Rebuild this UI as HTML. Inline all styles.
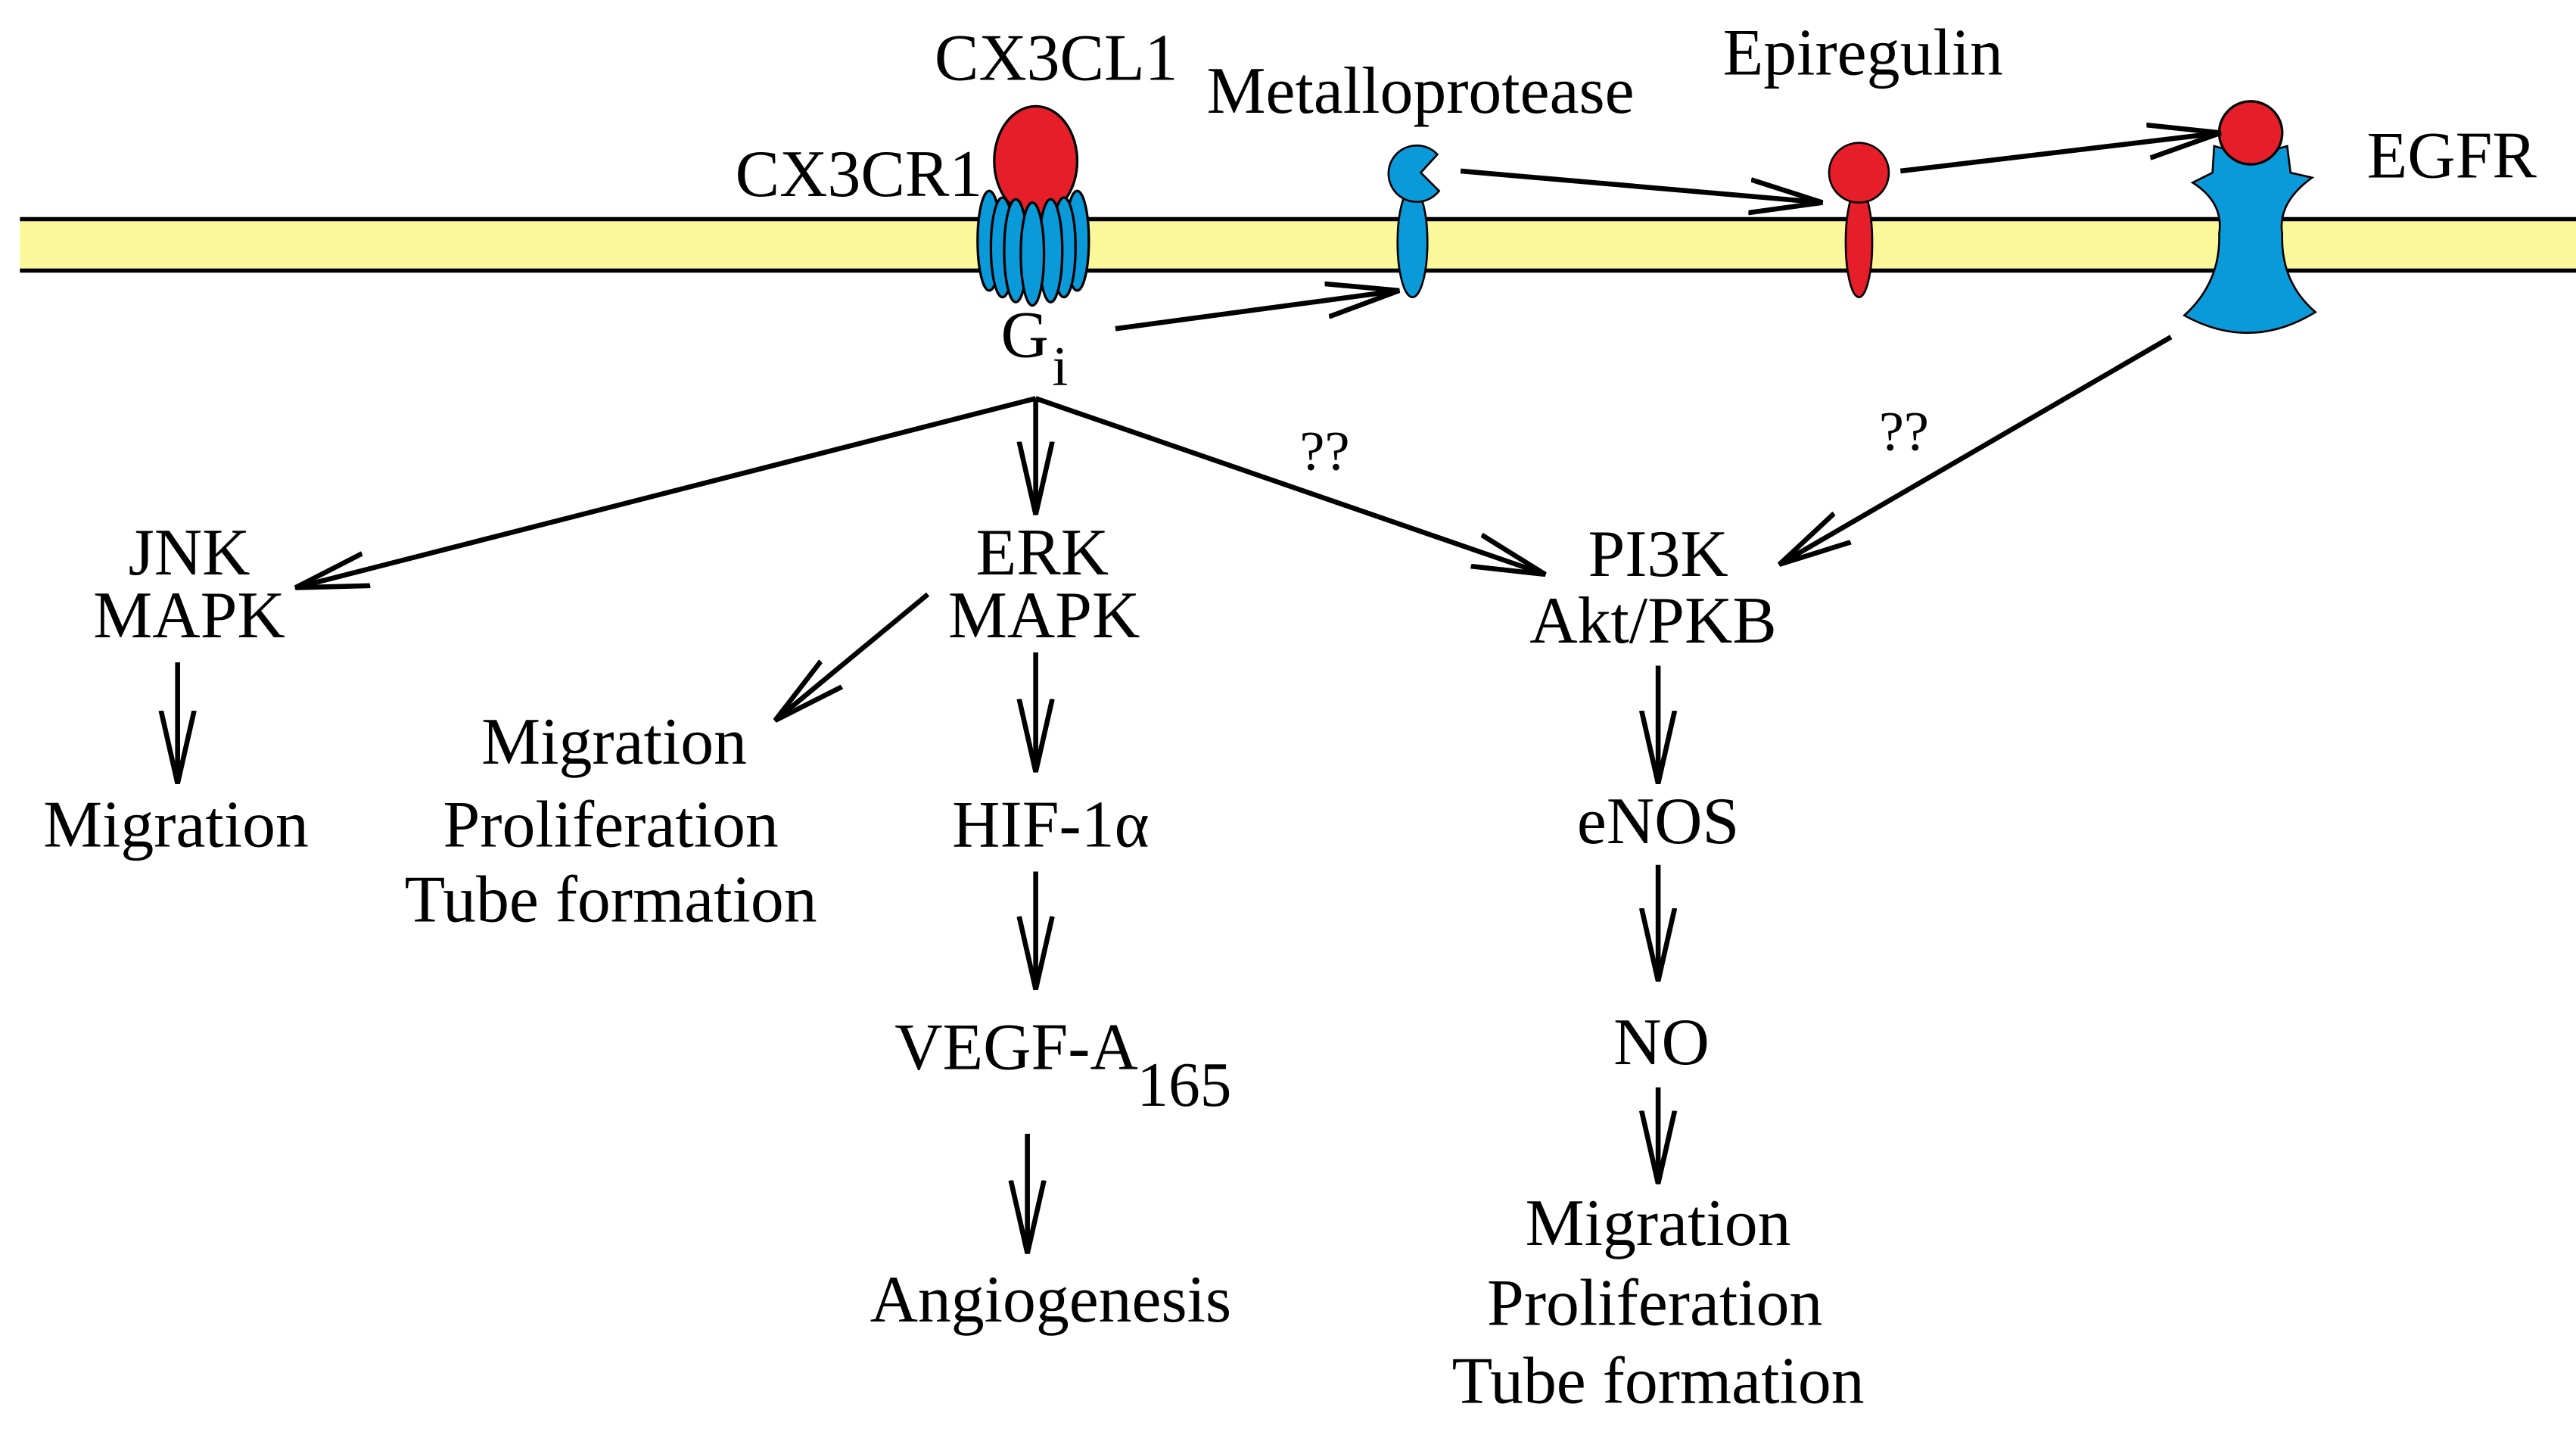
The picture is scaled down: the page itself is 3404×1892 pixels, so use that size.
<!DOCTYPE html>
<html><head><meta charset="utf-8"><style>
html,body{margin:0;padding:0;background:#fff;}
svg{display:block;}
text{font-family:"Liberation Serif",serif;fill:#000;}
</style></head><body>
<svg width="3404" height="1892" viewBox="0 0 1552 862.6" xmlns="http://www.w3.org/2000/svg">
<defs>
<marker id="a" markerUnits="userSpaceOnUse" markerWidth="50" markerHeight="30" refX="44" refY="12" orient="auto">
<path d="M0,2 L44,12 L0,22" fill="none" stroke="#000" stroke-width="3"/>
</marker>
</defs>
<!-- membrane -->
<rect x="12" y="132" width="1540" height="31" fill="#fbf79b"/>
<line x1="12" y1="132" x2="1552" y2="132" stroke="#000" stroke-width="2.5"/>
<line x1="12" y1="163" x2="1552" y2="163" stroke="#000" stroke-width="2.5"/>

<!-- CX3CR1 / CX3CL1 -->
<ellipse cx="624" cy="97" rx="25" ry="33" fill="#e61e2a" stroke="#000" stroke-width="1.5"/>
<g fill="#0b9ad9" stroke="#000" stroke-width="1.5">
<ellipse cx="596" cy="145" rx="7" ry="30"/>
<ellipse cx="649" cy="145" rx="7" ry="30"/>
<ellipse cx="604" cy="149" rx="7" ry="30"/>
<ellipse cx="641" cy="149" rx="7" ry="30"/>
<ellipse cx="612" cy="151" rx="7" ry="31"/>
<ellipse cx="633" cy="151" rx="7" ry="31"/>
<ellipse cx="622" cy="153" rx="7" ry="31"/>
</g>

<!-- Metalloprotease -->
<g fill="#0b9ad9" stroke="#000" stroke-width="1.2">
<ellipse cx="851" cy="146" rx="9" ry="33"/>
<path d="M866,93 A17,17 0 1 0 867,115 L856,104 Z"/>
</g>

<!-- Epiregulin -->
<g fill="#e61e2a" stroke="#000" stroke-width="1.2">
<ellipse cx="1120" cy="146" rx="8" ry="33"/>
<circle cx="1120" cy="104" r="18"/>
</g>

<!-- EGFR -->
<path d="M1334,88 Q1356,95 1378,88 L1380,104 L1393,107 Q1372,122 1375,141 Q1374,170 1395,188 Q1356,212 1316,190 Q1338,170 1337,141 Q1340,122 1321,110 L1333,104 Z" fill="#0b9ad9" stroke="#000" stroke-width="1.2"/>
<circle cx="1356" cy="80" r="19" fill="#e61e2a" stroke="#000" stroke-width="1.5"/>

<!-- top arrows -->
<g stroke="#000" stroke-width="3" fill="none" marker-end="url(#a)">
<line x1="672" y1="198" x2="843" y2="175"/>
<line x1="880" y1="103" x2="1098" y2="122"/>
<line x1="1145" y1="103" x2="1338" y2="80"/>
<line x1="624" y1="240" x2="178" y2="354"/>
<line x1="624" y1="240" x2="624" y2="310"/>
<line x1="624" y1="240" x2="931" y2="346"/>
<line x1="1308" y1="203" x2="1072" y2="340"/>
<line x1="559" y1="358" x2="467" y2="434"/>
<line x1="107" y1="399" x2="107" y2="472"/>
<line x1="624" y1="393" x2="624" y2="465"/>
<line x1="624" y1="525" x2="624" y2="596"/>
<line x1="619" y1="683" x2="619" y2="755"/>
<line x1="999" y1="401" x2="999" y2="472"/>
<line x1="999" y1="521" x2="999" y2="591"/>
<line x1="999" y1="655" x2="999" y2="713"/>
</g>

<!-- labels -->
<g font-size="40">
<text x="563" y="48">CX3CL1</text>
<text x="727" y="68">Metalloprotease</text>
<text x="1038" y="45">Epiregulin</text>
<text x="443" y="118">CX3CR1</text>
<text x="1426" y="107">EGFR</text>
<text x="603" y="215">G</text>
<text x="634" y="232" font-size="34">i</text>
<text x="783" y="283" font-size="34">??</text>
<text x="1132" y="271" font-size="34">??</text>
<g text-anchor="middle">
<text x="114" y="346">JNK</text>
<text x="114" y="384">MAPK</text>
<text x="628" y="346">ERK</text>
<text x="629" y="384">MAPK</text>
<text x="999" y="347">PI3K</text>
<text x="996" y="387">Akt/PKB</text>
<text x="106" y="510">Migration</text>
<text x="370" y="460">Migration</text>
<text x="368" y="510">Proliferation</text>
<text x="368" y="555">Tube formation</text>
<text x="633" y="510">HIF-1α</text>
<text x="633" y="796">Angiogenesis</text>
<text x="999" y="508">eNOS</text>
<text x="1001" y="641">NO</text>
<text x="999" y="750">Migration</text>
<text x="997" y="798">Proliferation</text>
<text x="999" y="845">Tube formation</text>
</g>
<text x="539" y="644">VEGF-A</text>
<text x="685" y="666" font-size="38">165</text>
</g>
</svg>
</body></html>
